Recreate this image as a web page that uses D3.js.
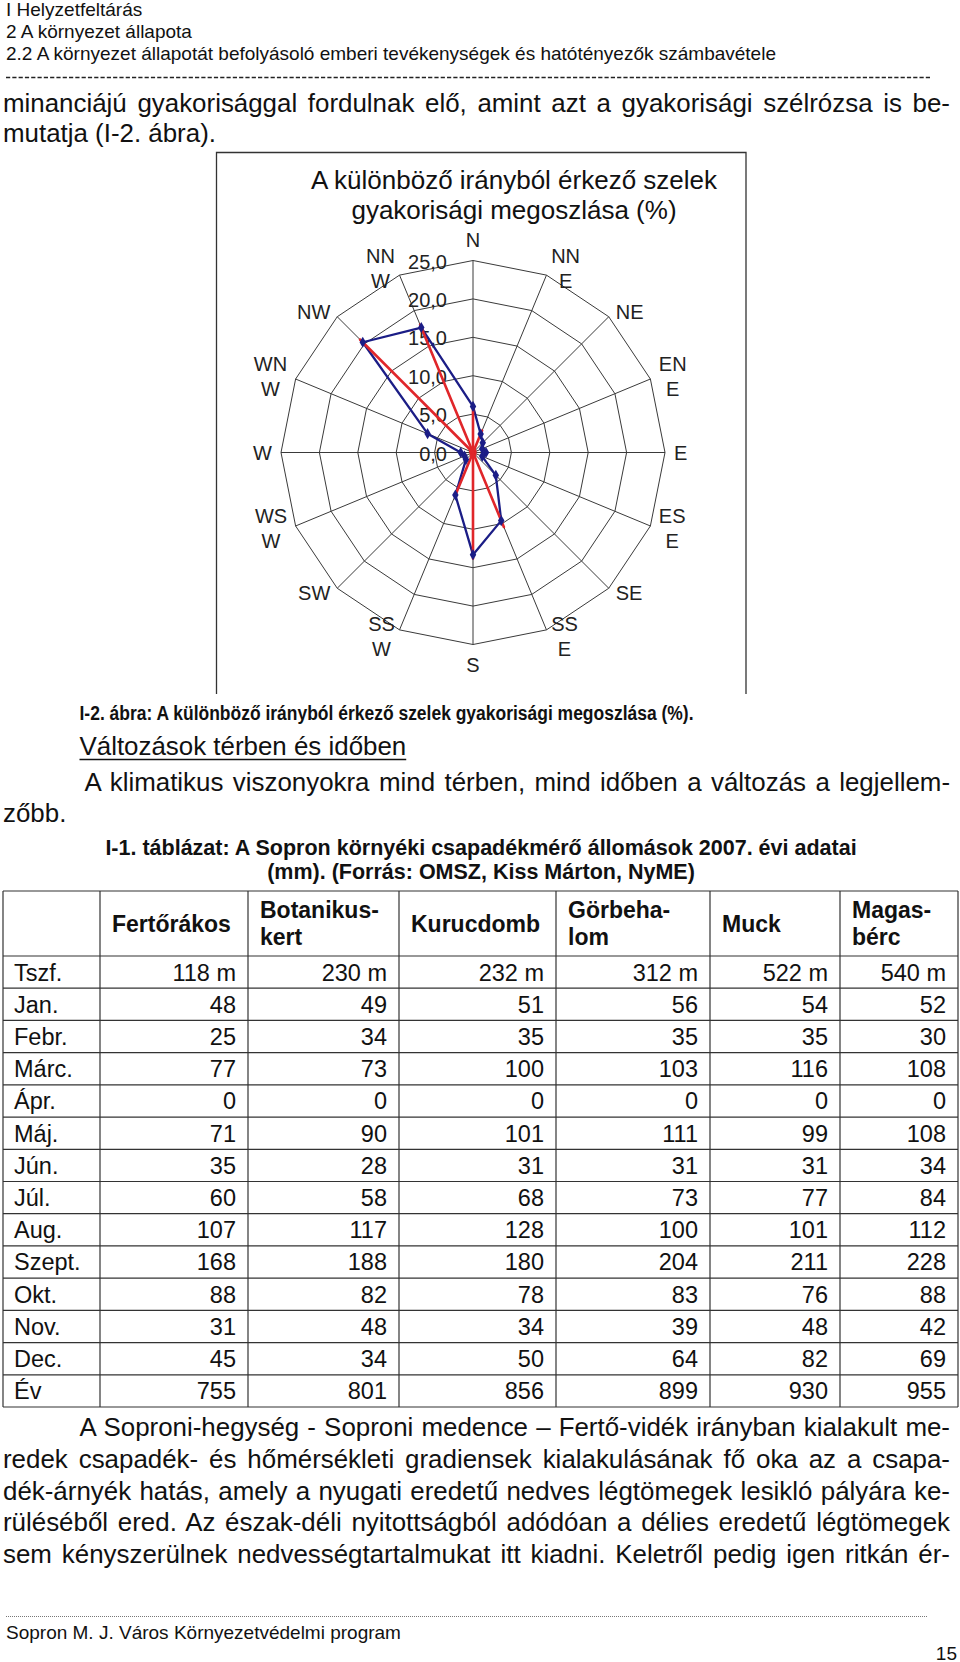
<!DOCTYPE html>
<html><head><meta charset="utf-8">
<script src="https://cdn.jsdelivr.net/npm/d3@7"></script>
<style>
body{margin:0;background:#fff}
svg{display:block}
text{font-family:"Liberation Sans",Arial,sans-serif;fill:#111}
</style>
</head><body>
<svg id="page" width="960" height="1662"></svg>
<script>
// ---------------- DATA ----------------
const directions = ["N","NNE","NE","ENE","E","ESE","SE","SSE","S","SSW","SW","WSW","W","WNW","NW","NNW"];
const directionLabels = [["N"],["NN","E"],["NE"],["EN","E"],["E"],["ES","E"],["SE"],["SS","E"],["S"],["SS","W"],["SW"],["WS","W"],["W"],["WN","W"],["NW"],["NN","W"]];
const seriesBlue = [6.0, 2.6, 1.8, 1.3, 1.7, 1.3, 4.2, 9.6, 13.3, 6.0, 1.3, 1.2, 1.6, 6.4, 20.3, 17.6];
const seriesRed  = [5.7, 3.1, 0.4, 0.3, 0.3, 0.3, 0.4, 10.5, 13.8, 5.8, 0.4, 0.3, 0.3, 0.4, 20.8, 18.0];
const radialTicks = [0, 5, 10, 15, 20, 25];
const radialTickLabels = ["0,0","5,0","10,0","15,0","20,0","25,0"];
const chartTitle = ["A különböző irányból érkező szelek", "gyakorisági megoszlása (%)"];

const stationHeaders = [["Fertőrákos"],["Botanikus-","kert"],["Kurucdomb"],["Görbeha-","lom"],["Muck"],["Magas-","bérc"]];
const rowLabels = ["Tszf.","Jan.","Febr.","Márc.","Ápr.","Máj.","Jún.","Júl.","Aug.","Szept.","Okt.","Nov.","Dec.","Év"];
const tszf  = ["118 m","230 m","232 m","312 m","522 m","540 m"];
const jan   = [48, 49, 51, 56, 54, 52];
const febr  = [25, 34, 35, 35, 35, 30];
const marc  = [77, 73, 100, 103, 116, 108];
const apr   = [0, 0, 0, 0, 0, 0];
const maj   = [71, 90, 101, 111, 99, 108];
const jun   = [35, 28, 31, 31, 31, 34];
const jul   = [60, 58, 68, 73, 77, 84];
const aug   = [107, 117, 128, 100, 101, 112];
const szept = [168, 188, 180, 204, 211, 228];
const okt   = [88, 82, 78, 83, 76, 88];
const nov   = [31, 48, 34, 39, 48, 42];
const dec   = [45, 34, 50, 64, 82, 69];
const ev    = [755, 801, 856, 899, 930, 955];
const tableRows = [tszf, jan, febr, marc, apr, maj, jun, jul, aug, szept, okt, nov, dec, ev];

const headerLines = ["I Helyzetfeltárás", "2 A környezet állapota",
  "2.2 A környezet állapotát befolyásoló emberi tevékenységek és hatótényezők számbavétele"];
const para1 = ["minanciájú gyakorisággal fordulnak elő, amint azt a gyakorisági szélrózsa is be-",
  "mutatja (I-2. ábra)."];
const figCaption = "I-2. ábra: A különböző irányból érkező szelek gyakorisági megoszlása (%).";
const subHeading = "Változások térben és időben";
const para2 = ["A klimatikus viszonyokra mind térben, mind időben a változás a legjellem-", "zőbb."];
const tableTitle = ["I-1. táblázat: A Sopron környéki csapadékmérő állomások 2007. évi adatai",
  "(mm). (Forrás: OMSZ, Kiss Márton, NyME)"];
const para3 = ["A Soproni-hegység - Soproni medence – Fertő-vidék irányban kialakult me-",
  "redek csapadék- és hőmérsékleti gradiensek kialakulásának fő oka az a csapa-",
  "dék-árnyék hatás, amely a nyugati eredetű nedves légtömegek lesikló pályára ke-",
  "rüléséből ered. Az észak-déli nyitottságból adódóan a délies eredetű légtömegek",
  "sem kényszerülnek nedvességtartalmukat itt kiadni. Keletről pedig igen ritkán ér-"];
const footerText = "Sopron M. J. Város Környezetvédelmi program";
const pageNumber = "15";

// ---------------- HELPERS ----------------
const svg = d3.select("#page");
svg.append("rect").attr("width", 960).attr("height", 1662).attr("fill", "#fff");

function addText(g, s, x, y, size, opts = {}) {
  const t = g.append("text").attr("x", x).attr("y", y)
    .attr("font-size", size).text(s);
  if (opts.bold) t.attr("font-weight", "bold");
  if (opts.anchor) t.attr("text-anchor", opts.anchor);
  if (opts.fill) t.style("fill", opts.fill);
  return t;
}
function justify(t, x0, x1) {
  const w = t.node().getComputedTextLength();
  const n = (t.text().match(/ /g) || []).length;
  if (n > 0) t.attr("word-spacing", ((x1 - x0) - w) / n);
}

const LEFT = 3, RIGHT = 950, BODY = 25.9, LINE = 31.8;

// ---------------- PAGE HEADER ----------------
const hdr = svg.append("g");
headerLines.forEach((s, i) => addText(hdr, s, 6, 16 + i * 22, 19));
hdr.append("line").attr("x1", 6).attr("x2", 931).attr("y1", 77.5).attr("y2", 77.5)
  .attr("stroke", "#222").attr("stroke-width", 1.6).attr("stroke-dasharray", "4.2 2.1");

// paragraph 1
const p1a = addText(svg, para1[0], LEFT, 112, BODY);
justify(p1a, LEFT, RIGHT);
addText(svg, para1[1], LEFT, 142, BODY);

// ---------------- RADAR CHART ----------------
const box = svg.append("g");
box.append("path").attr("d", "M216.5,694 V152.5 H746 V694")
  .attr("fill", "none").attr("stroke", "#333").attr("stroke-width", 1.3);

const cx = 473, cy = 452.5, R = 192;
const rScale = d3.scaleLinear().domain([0, 25]).range([0, R]);
const step = 2 * Math.PI / directions.length;
const angle = (d, i) => i * step;
const px = (v, i) => rScale(v) * Math.sin(i * step);
const py = (v, i) => -rScale(v) * Math.cos(i * step);

const chart = svg.append("g").attr("transform", `translate(${cx},${cy})`);

chartTitle.forEach((s, i) =>
  addText(svg, s, 514, 189 + i * 30, 26, { anchor: "middle" }));

// rings
const ringLine = d3.lineRadial().angle(angle).radius(d => rScale(d)).curve(d3.curveLinearClosed);
radialTicks.filter(v => v > 0).forEach(v => {
  chart.append("path").attr("d", ringLine(directions.map(() => v)))
    .attr("fill", "none").attr("stroke", "#3a3a3a").attr("stroke-width", 1);
});
// spokes
directions.forEach((d, i) => {
  chart.append("line").attr("x1", 0).attr("y1", 0)
    .attr("x2", px(25, i)).attr("y2", py(25, i))
    .attr("stroke", "#3a3a3a").attr("stroke-width", 1);
});
// tick labels
radialTicks.forEach((v, i) => {
  addText(chart, radialTickLabels[i], -26, -rScale(v) + 8, 20, { anchor: "end", fill: "#222" });
});
// direction labels
directionLabels.forEach((lines, i) => {
  const a = i * step, s = Math.sin(a), c = Math.cos(a);
  const ox = px(25, i), oy = py(25, i);
  const g = chart.append("g");
  const lh = 25;
  const ts = lines.map(ln => addText(g, ln, 0, 0, 20, { anchor: "middle", fill: "#222" }));
  const w = d3.max(ts, t => t.node().getComputedTextLength());
  let mx, my;
  if (Math.abs(s) < 0.01) { mx = ox; my = oy - c * 20.5; }
  else { mx = ox + Math.sign(s) * (2 + 7 * Math.abs(s) + w / 2); my = oy - 7 * c; }
  ts.forEach((t, k) => t.attr("x", mx).attr("y", my + 7.2 + (k - (lines.length - 1) / 2) * lh));
});

// blue series: closed polygon
const seriesLine = d3.lineRadial().angle(angle).radius(d => rScale(d)).curve(d3.curveLinearClosed);
chart.append("path").attr("d", seriesLine(seriesBlue))
  .attr("fill", "none").attr("stroke", "#1b1d86").attr("stroke-width", 2.3).attr("stroke-linejoin", "round");
// red series: rays from the centre
chart.selectAll("line.red").data(seriesRed).enter().append("line")
  .attr("class", "red")
  .attr("x1", 0).attr("y1", 0)
  .attr("x2", (d, i) => px(d, i)).attr("y2", (d, i) => py(d, i))
  .attr("stroke", "#e0262a").attr("stroke-width", 2.6).attr("stroke-linecap", "round");
chart.selectAll("path.mk").data(seriesBlue).enter().append("path")
  .attr("class", "mk")
  .attr("d", d3.symbol(d3.symbolDiamond, 36))
  .attr("transform", (d, i) => `translate(${px(d, i)},${py(d, i)})`)
  .attr("fill", "#1b1d86");

// ---------------- CAPTION & TEXT ----------------
addText(svg, figCaption, 79.5, 720, 19.5, { bold: true })
  .attr("textLength", 614).attr("lengthAdjust", "spacingAndGlyphs");
const sh = addText(svg, subHeading, 79.5, 755, BODY);
const shw = sh.node().getComputedTextLength();
svg.append("line").attr("x1", 79.5).attr("x2", 79.5 + shw).attr("y1", 759.5).attr("y2", 759.5)
  .attr("stroke", "#111").attr("stroke-width", 1.3);
const p2a = addText(svg, para2[0], 84.5, 790.5, BODY);
justify(p2a, 84.5, RIGHT);
addText(svg, para2[1], LEFT, 821.5, BODY);

tableTitle.forEach((s, i) => addText(svg, s, 481, 855 + i * 24, 21.5, { bold: true, anchor: "middle" }));

// ---------------- TABLE ----------------
const colEdges = [3, 100, 248, 399, 556, 710, 840, 958];
const tTop = 891, hBottom = 956, tBottom = 1407;
const rowScale = d3.scaleBand().domain(rowLabels).range([hBottom, tBottom]);
const tbl = svg.append("g");
const lineColor = "#333";
[tTop, ...rowLabels.map(r => rowScale(r)), tBottom].forEach(y => {
  tbl.append("line").attr("x1", colEdges[0]).attr("x2", colEdges[colEdges.length - 1])
    .attr("y1", y).attr("y2", y).attr("stroke", lineColor).attr("stroke-width", 1.2);
});
colEdges.forEach(x => {
  tbl.append("line").attr("x1", x).attr("x2", x).attr("y1", tTop).attr("y2", tBottom)
    .attr("stroke", lineColor).attr("stroke-width", 1.2);
});
const hMid = (tTop + hBottom) / 2;
stationHeaders.forEach((lines, j) => {
  lines.forEach((ln, k) => {
    addText(tbl, ln, colEdges[j + 1] + 12, hMid + 8.2 + (k - (lines.length - 1) / 2) * 27, 23, { bold: true });
  });
});
rowLabels.forEach((lab, i) => {
  const y = rowScale(lab) + rowScale.bandwidth() / 2 + 8.4;
  addText(tbl, lab, colEdges[0] + 11, y, 23.5);
  tableRows[i].forEach((v, j) => {
    addText(tbl, String(v), colEdges[j + 2] - 12, y, 23.5, { anchor: "end" });
  });
});

// ---------------- PARAGRAPH 3 ----------------
para3.forEach((s, i) => {
  const x0 = i === 0 ? 79.5 : LEFT;
  const t = addText(svg, s, x0, 1436 + i * LINE, BODY);
  justify(t, x0, RIGHT);
});

// ---------------- FOOTER ----------------
svg.append("line").attr("x1", 6).attr("x2", 928).attr("y1", 1616.5).attr("y2", 1616.5)
  .attr("stroke", "#777").attr("stroke-width", 1).attr("stroke-dasharray", "1 1");
addText(svg, footerText, 6, 1638.5, 19);
addText(svg, pageNumber, 957, 1659.5, 19, { anchor: "end" });
</script>
</body></html>
